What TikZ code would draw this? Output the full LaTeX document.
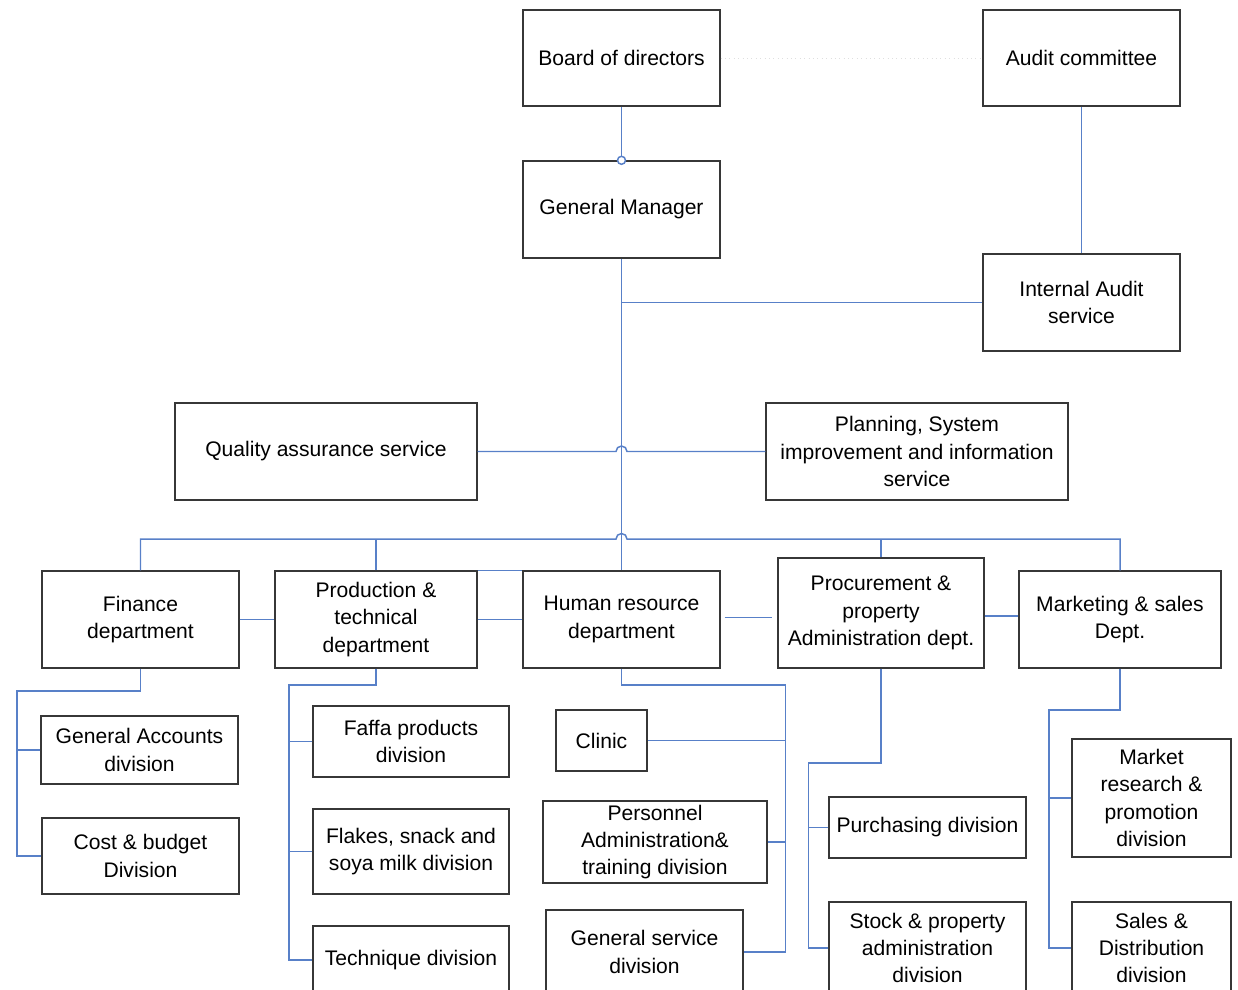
\documentclass[tikz,border=0pt]{standalone}
\usepackage{fontspec}
\setmainfont{Liberation Sans}
\usetikzlibrary{calc}

\definecolor{linkblue}{RGB}{88,128,200}
\definecolor{boxgray}{RGB}{55,55,55}

\tikzset{every picture/.append style={x=0.02cm, y=-0.02cm}}
\tikzset{
  box/.style 2 args={draw=boxgray, line width=0.8pt, align=center, inner sep=0pt,
    minimum width=#1*0.02cm, minimum height=#2*0.02cm,
    font=\fontsize{12}{15.6}\selectfont},
  link/.style={draw=linkblue, line width=0.85pt},
  faint/.style={draw=gray!25, line width=0.5pt, dotted},
}
\newcommand{\hop}{arc (180:0:0.11cm)}

\begin{document}
\begin{tikzpicture}
  \clip (0,0) rectangle (1238,990);
  \fill[white] (0,0) rectangle (1238,990);

  % top of the chart
  \node[box={197}{96}] (board) at (621.5,58) {Board of directors};
  \node[box={197}{96}] (audit) at (1081.5,58) {Audit committee};
  \node[box={197}{97}] (gm) at (621.5,209.5) {General Manager};
  \node[box={197}{97}] (ia) at (1081.5,302.5) {Internal Audit\\service};
  \node[box={302}{97}] (qa) at (326,451.5) {Quality assurance service};
  \node[box={302}{97}] (plan) at (917,451.5) {Planning, System\\improvement and information\\service};

  % departments
  \node[box={197}{97}] (fin) at (140.5,619.5) {Finance\\department};
  \node[box={202}{97}] (prod) at (376,619.5) {Production \&\\technical\\department};
  \node[box={197}{97}] (hr) at (621.5,619.5) {Human resource\\department};
  \node[box={206}{110}] (proc) at (881,613) {Procurement \&\\property\\Administration dept.};
  \node[box={202}{97}] (mkt) at (1120,619.5) {Marketing \& sales\\Dept.};

  % divisions
  \node[box={197}{68}] (genacc) at (139.5,750) {General Accounts\\division};
  \node[box={197}{76}] (cost) at (140.5,856) {Cost \& budget\\Division};
  \node[box={196}{71}] (faffa) at (411,741.5) {Faffa products\\division};
  \node[box={196}{85}] (flakes) at (411,851.5) {Flakes, snack and\\soya milk division};
  \node[box={196}{68}] (tech) at (411,960) {Technique division};
  \node[box={91}{61}] (clinic) at (601.5,740.5) {Clinic};
  \node[box={224}{82}] (pers) at (655,842) {Personnel\\Administration\&\\training division};
  \node[box={197}{84}] (gensvc) at (644.5,952) {General service\\division};
  \node[box={197}{61}] (purch) at (927.5,827.5) {Purchasing division};
  \node[box={197}{92}] (stock) at (927.5,948) {Stock \& property\\administration\\division};
  \node[box={159}{118}] (market) at (1151.5,798) {Market\\research \&\\promotion\\division};
  \node[box={159}{92}] (sales) at (1151.5,948) {Sales \&\\Distribution\\division};

  % bends of the division connectors
  \coordinate (finx) at (17,691);
  \coordinate (prodx) at (289,685);
  \coordinate (hrx) at (785.5,685);
  \coordinate (procx) at (808.5,763);
  \coordinate (mktx) at (1049,710);
  \coordinate (bus) at (621.5,539);

  % board, audit and manager
  \draw[faint] (board.east) -- (audit.west);
  \draw[link] (board.south) -- (gm.north);
  \draw[link, fill=white] (gm.north) circle (0.08cm);
  \draw[link] (audit.south) -- (ia.north);
  \draw[link] (gm.south) -- (hr.north);
  \draw[link] (gm.south |- ia.west) -- (ia.west);

  % staff services and department bus, hopping the main line
  \draw[link] (qa.east) -- ($(qa.east -| gm.south)+(-5.5,0)$) \hop -- (plan.west);
  \draw[link] (fin.north) -- (fin.north |- bus) -- ($(bus)+(-5.5,0)$) \hop -- (mkt.north |- bus) -- (mkt.north);
  \draw[link] (prod.north) -- (prod.north |- bus);
  \draw[link] (proc.north) -- (proc.north |- bus);
  \draw[link] (prod.north east) -- (hr.north west);

  % between departments
  \draw[link] (fin.east) -- (prod.west);
  \draw[link] (prod.east) -- (hr.west);
  \draw[link] ($(hr.east)+(4,-2)$) -- ($(hr.east -| proc.west)+(-5,-2)$);
  \draw[link] (proc.east) ++(0,3) coordinate (pe) -- (pe -| mkt.west);

  % departments to divisions
  \draw[link] (fin.south) |- (finx) |- (cost.west);
  \draw[link] (genacc.west) -- (genacc.west -| finx);
  \draw[link] (prod.south) |- (prodx) |- (tech.west);
  \draw[link] (faffa.west) -- (faffa.west -| prodx);
  \draw[link] (flakes.west) -- (flakes.west -| prodx);
  \draw[link] (hr.south) |- (hrx) |- (gensvc.east);
  \draw[link] (clinic.east) -- (clinic.east -| hrx);
  \draw[link] (pers.east) -- (pers.east -| hrx);
  \draw[link] (proc.south) |- (procx) |- (stock.west);
  \draw[link] (purch.west) -- (purch.west -| procx);
  \draw[link] (mkt.south) |- (mktx) |- (sales.west);
  \draw[link] (market.west) -- (market.west -| mktx);
\end{tikzpicture}
\end{document}
